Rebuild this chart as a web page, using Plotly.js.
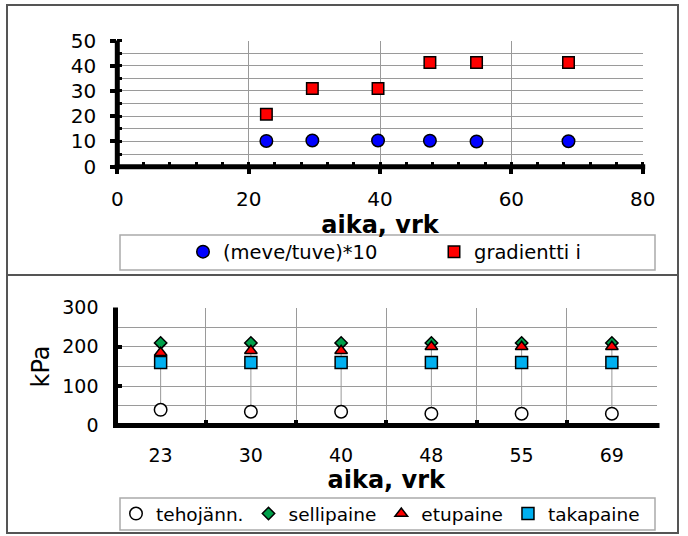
<!DOCTYPE html>
<html>
<head>
<meta charset="utf-8">
<script src="https://cdn.plot.ly/plotly-3.0.1.min.js"></script>
<style>
  html, body { margin: 0; padding: 0; background: #fff; }
  #chart { width: 688px; height: 536px; }
</style>
</head>
<body>
<div id="chart"></div>
<script>
// Upper panel: ratio and gradient against time (days)
const timeDays = [22.7, 29.7, 39.7, 47.6, 54.7, 68.7];
const ratioTimes10 = [10.2, 10.4, 10.4, 10.3, 10.0, 10.1];
const gradient = [20.8, 31.0, 31.0, 41.3, 41.3, 41.3];

// Lower panel: pressures (kPa) per sampling day
const dayLabels = ['23', '30', '40', '48', '55', '69'];
const tehojann = [40, 35, 35, 30, 30, 30];
const sellipaine = [210, 210, 210, 210, 210, 210];
const etupaine = [185, 190, 190, 200, 200, 200];
const takapaine = [160, 160, 160, 160, 160, 160];

const W = 688, H = 536;
const px = v => v / W;
const py = v => 1 - v / H;
const FONT = 'DejaVu Sans, Verdana, sans-serif';

// plot-area rectangles in pixels
const upperBox = { l: 117.3, r: 642.7, t: 40.5, b: 166.7 };
const lowerBox = { l: 115.5, r: 657, t: 307.5, b: 425.5 };

// vertical high-low connector per day, from lowest to highest series
const hlX = [], hlY = [];
dayLabels.forEach((d, i) => {
  const vals = [tehojann[i], sellipaine[i], etupaine[i], takapaine[i]];
  hlX.push(d, d, null);
  hlY.push(Math.min(...vals), Math.max(...vals), null);
});

const traces = [
  {
    x: timeDays, y: ratioTimes10, xaxis: 'x', yaxis: 'y', legend: 'legend',
    name: '(meve/tuve)*10', mode: 'markers', type: 'scatter',
    marker: { symbol: 'circle', size: 12.5, color: '#0000ff', line: { color: '#000', width: 1.5 } }
  },
  {
    x: timeDays, y: gradient, xaxis: 'x', yaxis: 'y', legend: 'legend',
    name: 'gradientti i', mode: 'markers', type: 'scatter',
    marker: { symbol: 'square', size: 11.5, color: '#ff0000', line: { color: '#000', width: 1.5 } }
  },
  {
    x: hlX, y: hlY, xaxis: 'x2', yaxis: 'y2', mode: 'lines', type: 'scatter',
    showlegend: false, hoverinfo: 'skip', connectgaps: false,
    line: { color: '#999', width: 1 }
  },
  {
    x: dayLabels, y: tehojann, xaxis: 'x2', yaxis: 'y2', legend: 'legend2',
    name: 'tehojänn.', mode: 'markers', type: 'scatter',
    marker: { symbol: 'circle', size: 12.5, color: '#fff', line: { color: '#000', width: 1.5 } }
  },
  {
    x: dayLabels, y: sellipaine, xaxis: 'x2', yaxis: 'y2', legend: 'legend2',
    name: 'sellipaine', mode: 'markers', type: 'scatter',
    marker: { symbol: 'diamond', size: 9.5, color: '#00a04a', line: { color: '#000', width: 1.5 } }
  },
  {
    x: dayLabels, y: etupaine, xaxis: 'x2', yaxis: 'y2', legend: 'legend2',
    name: 'etupaine', mode: 'markers', type: 'scatter',
    marker: { symbol: 'triangle-up', size: 11, color: '#ff0000', line: { color: '#000', width: 1.5 } }
  },
  {
    x: dayLabels, y: takapaine, xaxis: 'x2', yaxis: 'y2', legend: 'legend2',
    name: 'takapaine', mode: 'markers', type: 'scatter',
    marker: { symbol: 'square', size: 12, color: '#00b0f0', line: { color: '#000', width: 1.5 } }
  }
];

const upperTickFont = { family: FONT, size: 20, color: '#000' };
const lowerTickFont = { family: FONT, size: 19, color: '#000' };
const titleFont = { family: FONT, size: 24, color: '#000', weight: 'bold' };
const gridColor = '#9a9a9a';

// thick black axis lines centred on the plot-area edges
function axisLines(xr, yr, box) {
  const padX = 2.5 / (box.r - box.l);
  const padY = 2.5 / (box.b - box.t);
  const ln = { color: '#000', width: 5 };
  return [
    { type: 'line', xref: xr + ' domain', yref: yr + ' domain', x0: 0, x1: 0, y0: -padY, y1: 1, line: ln, layer: 'above' },
    { type: 'line', xref: xr + ' domain', yref: yr + ' domain', x0: -padX, x1: 1 + padX, y0: 0, y1: 0, line: ln, layer: 'above' }
  ];
}

const layout = {
  width: W, height: H,
  margin: { l: 0, r: 0, t: 0, b: 0, autoexpand: false },
  paper_bgcolor: '#fff', plot_bgcolor: '#fff',
  font: { family: FONT, color: '#000' },
  showlegend: true,
  xaxis: {
    domain: [px(upperBox.l), px(upperBox.r)], anchor: 'y',
    range: [0, 80], tick0: 0, dtick: 20,
    showline: false, zeroline: false,
    ticks: 'outside', ticklen: 6, tickwidth: 4, tickcolor: '#000',
    minor: { dtick: 4, ticks: 'inside', ticklen: 5, tickwidth: 3, tickcolor: '#000', showgrid: false },
    showgrid: true, gridcolor: gridColor, gridwidth: 1,
    tickfont: upperTickFont, ticklabelstandoff: 8,
    title: { text: 'aika, vrk', font: titleFont, standoff: 6 }
  },
  yaxis: {
    domain: [py(upperBox.b), py(upperBox.t)], anchor: 'x',
    range: [0, 50], tick0: 0, dtick: 10,
    showline: false, zeroline: false,
    ticks: 'outside', ticklen: 6, tickwidth: 4, tickcolor: '#000',
    minor: { dtick: 5, ticks: 'inside', ticklen: 5, tickwidth: 3, tickcolor: '#000', showgrid: true, gridcolor: gridColor, gridwidth: 1 },
    showgrid: true, gridcolor: gridColor, gridwidth: 1,
    tickfont: upperTickFont, ticklabelstandoff: 10
  },
  xaxis2: {
    domain: [px(lowerBox.l), px(lowerBox.r)], anchor: 'y2',
    type: 'category', categoryorder: 'array', categoryarray: dayLabels,
    range: [-0.5, 5.5], tickson: 'boundaries',
    showline: false, zeroline: false,
    ticks: 'inside', ticklen: 6, tickwidth: 4, tickcolor: '#000',
    showgrid: true, gridcolor: gridColor, gridwidth: 1,
    tickfont: lowerTickFont, ticklabelstandoff: 16,
    title: { text: 'aika, vrk', font: titleFont, standoff: 6 }
  },
  yaxis2: {
    domain: [py(lowerBox.b), py(lowerBox.t)], anchor: 'x2',
    range: [0, 300], tick0: 0, dtick: 100,
    showline: false, zeroline: false,
    ticks: 'inside', ticklen: 6, tickwidth: 4, tickcolor: '#000',
    minor: { dtick: 50, ticks: '', showgrid: true, gridcolor: gridColor, gridwidth: 1 },
    showgrid: true, gridcolor: gridColor, gridwidth: 1,
    tickfont: lowerTickFont, ticklabelstandoff: 16,
    title: { text: 'kPa', font: { family: FONT, size: 24, color: '#000' }, standoff: 5 }
  },
  legend: {
    orientation: 'h', x: px(183), xanchor: 'left', y: py(252), yanchor: 'middle',
    bgcolor: 'rgba(0,0,0,0)', borderwidth: 0,
    font: { family: FONT, size: 19.5, color: '#000' },
    itemwidth: 30, traceorder: 'normal',
    entrywidth: 206, entrywidthmode: 'pixels'
  },
  legend2: {
    orientation: 'h', x: px(116), xanchor: 'left', y: py(514), yanchor: 'middle',
    bgcolor: 'rgba(0,0,0,0)', borderwidth: 0,
    font: { family: FONT, size: 18.5, color: '#000' },
    itemwidth: 30, traceorder: 'normal'
  },
  shapes: [
    // outer frame and panel divider
    { type: 'rect', xref: 'paper', yref: 'paper', x0: px(7), x1: px(678), y0: py(533), y1: py(5),
      line: { color: '#555', width: 2 }, fillcolor: 'rgba(0,0,0,0)', layer: 'below' },
    { type: 'line', xref: 'paper', yref: 'paper', x0: px(7), x1: px(678), y0: py(275), y1: py(275),
      line: { color: '#555', width: 2 }, layer: 'below' },
    // legend frames
    { type: 'rect', xref: 'paper', yref: 'paper', x0: px(120), x1: px(655), y0: py(270), y1: py(235),
      line: { color: '#aaa', width: 1.5 }, fillcolor: 'rgba(0,0,0,0)', layer: 'below' },
    { type: 'rect', xref: 'paper', yref: 'paper', x0: px(120), x1: px(655), y0: py(530), y1: py(498),
      line: { color: '#aaa', width: 1.5 }, fillcolor: 'rgba(0,0,0,0)', layer: 'below' }
  ].concat(axisLines('x', 'y', upperBox), axisLines('x2', 'y2', lowerBox))
};

Plotly.newPlot('chart', traces, layout, { displayModeBar: false, staticPlot: true });
</script>
</body>
</html>
